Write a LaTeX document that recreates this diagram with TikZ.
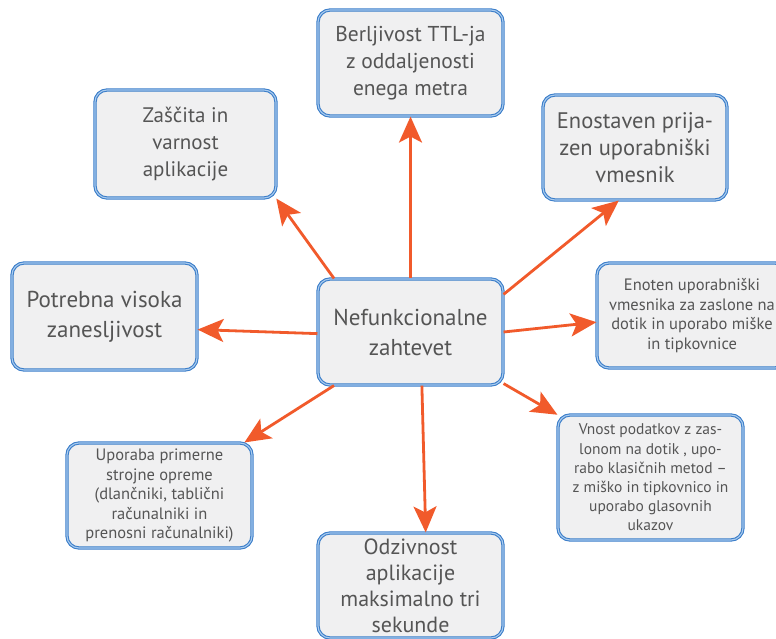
\documentclass[tikz,border=0pt]{standalone}
\usepackage{fontspec}
\setmainfont{PT Sans}
\usetikzlibrary{arrows.meta}
\definecolor{boxblue}{HTML}{3A7DC9}
\definecolor{boxgap}{HTML}{A9CBEE}
\definecolor{boxfill}{HTML}{F0F0F1}
\definecolor{txt}{HTML}{555555}
\definecolor{arrowred}{HTML}{F15A2B}
\begin{document}
\begin{tikzpicture}[x=1pt,y=-1pt,
  box/.style={draw=boxblue, line width=1.1pt, double=boxgap, double distance=1.1pt,
    fill=boxfill, rounded corners=12pt, align=center, text=txt, inner sep=0pt, anchor=center},
  big/.style={box, font=\fontsize{21}{27}\selectfont},
  small/.style={box, font=\fontsize{16.5}{19.5}\selectfont},
  link/.style={draw=arrowred, line width=2.8pt, -{Stealth[length=26pt,width=23pt,inset=6pt]}}]
\useasboundingbox (0,0) rectangle (776,639);
\clip (0,0) rectangle (776,639);

% central requirement box
\node[big, minimum width=185pt, minimum height=106pt, font=\fontsize{23}{30}\selectfont]
  (c) at (410.5,332) {Nefunkcionalne\\zahtevet};

% surrounding requirement boxes
\node[big, minimum width=185pt, minimum height=106pt, font=\fontsize{21.5}{27}\selectfont]
  (t) at (410.5,63) {Berljivost TTL-ja\\z oddaljenosti\\enega metra};
\node[big, minimum width=181pt, minimum height=108pt] (zs) at (185.5,144)
  {Zaščita in\\varnost\\aplikacije};
\node[big, minimum width=184pt, minimum height=105pt, font=\fontsize{22.5}{27}\selectfont]
  (en) at (635,147.5) {Enostaven prija-\\zen uporabniški\\vmesnik};
\node[big, minimum width=185pt, minimum height=107pt, font=\fontsize{23}{30}\selectfont]
  (pv) at (104.5,316.5) {Potrebna visoka\\zanesljivost};
\node[small, minimum width=190pt, minimum height=105pt] (eu) at (692,315.5)
  {Enoten uporabniški\\vmesnika za zaslone na\\dotik in uporabo miške\\in tipkovnice};
\node[small, minimum width=185pt, minimum height=105pt] (up) at (159.5,495.5)
  {Uporaba primerne\\strojne opreme\\(dlančniki, tablični\\računalniki in\\prenosni računalniki)};
\node[small, minimum width=185pt, minimum height=125pt, font=\fontsize{15.5}{19.2}\selectfont]
  (vp) at (650.5,477.5)
  {Vnost podatkov z zas-\\lonom na dotik , upo-\\rabo klasičnih metod –\\z miško in tipkovnico in\\uporabo glasovnih\\ukazov};
\node[big, minimum width=185pt, minimum height=105pt, font=\fontsize{22}{26}\selectfont]
  (od) at (410.5,585.5)
  {Odzivnost\\aplikacije\\maksimalno tri\\sekunde};

% arrows from the centre outwards
\draw[link] (c.north) -- (t.south);
\draw[link] (c.145) -- (zs.-31);
\draw[link] (c.22) -- (en.253);
\draw[link] (c.181) -- (pv.-8);
\draw[link] (c.east) -- (eu.184);
\draw[link] (c.215) -- (up.32);
\draw[link] (c.-29) -- (vp.146);
\draw[link] (c.-78) -- (od.74);
\end{tikzpicture}
\end{document}
